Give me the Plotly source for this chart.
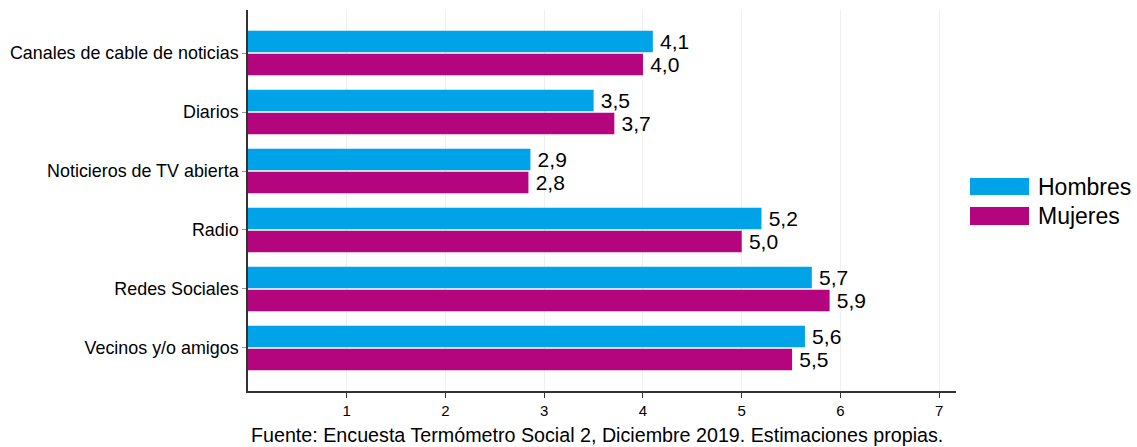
import plotly.graph_objects as go

categorias = ["Canales de cable de noticias", "Diarios", "Noticieros de TV abierta",
              "Radio", "Redes Sociales", "Vecinos y/o amigos"]
hombres = [4.10, 3.50, 2.86, 5.20, 5.71, 5.64]
mujeres = [4.00, 3.71, 2.84, 5.00, 5.89, 5.51]
series = ["Hombres", "Mujeres"]
colores = ["#00A2E8", "#B4057F"]
x_ticks = [1, 2, 3, 4, 5, 6, 7]
fuente = "Fuente: Encuesta Termómetro Social 2, Diciembre 2019. Estimaciones propias."

FONT = "Liberation Sans, Arial, sans-serif"

def fmt(v):
    return "\u2009" + f"{v:.1f}".replace(".", ",")

fig = go.Figure()
for name, vals, col in zip(series, [hombres, mujeres], colores):
    fig.add_trace(go.Bar(
        y=categorias, x=vals, name=name, orientation="h",
        marker=dict(color=col, line=dict(width=0)),
        text=[fmt(v) for v in vals], textposition="outside",
        constraintext="none",
        textfont=dict(size=21, color="black", family=FONT),
        cliponaxis=False, showlegend=False,
    ))

fig.update_layout(
    width=1137, height=447,
    margin=dict(l=248, r=181, t=10, b=56),
    barmode="group", bargap=0.22, bargroupgap=0.07,
    plot_bgcolor="white", paper_bgcolor="white",
    font=dict(family=FONT, color="black"),
)
fig.update_xaxes(
    range=[0, 7.17], tickvals=x_ticks, ticks="outside", ticklen=5, tickcolor="#333",
    showgrid=True, gridcolor="#EEF1F1", gridwidth=1,
    showline=True, linecolor="#333", linewidth=1.5,
    tickfont=dict(size=15), zeroline=False,
)
fig.update_yaxes(
    range=[5.73, -0.73], ticks="outside", ticklen=4, tickcolor="#999",
    showline=True, linecolor="#333", linewidth=1.5, showgrid=False,
    tickfont=dict(size=17.9),
)

# Custom legend
leg = [(178, 195), (207, 225)]
for (y0, y1), name, col in zip(leg, series, colores):
    fig.add_shape(type="rect", xref="paper", yref="paper",
                  x0=(970 - 248) / 708, x1=(1029 - 248) / 708,
                  y0=(391 - y1) / 381, y1=(391 - y0) / 381,
                  fillcolor=col, line=dict(width=0))
    fig.add_annotation(xref="paper", yref="paper",
                       x=(1036 - 248) / 708, y=(391 - (y0 + y1) / 2) / 381,
                       text=name, showarrow=False, xanchor="left", yanchor="middle",
                       font=dict(size=23, color="black"))

fig.add_annotation(xref="paper", yref="paper", x=(597 - 248) / 708, y=-(435 - 391) / 381,
                   text=fuente, showarrow=False, xanchor="center", yanchor="middle",
                   font=dict(size=19.7, color="black"))

fig.write_html("out.html", config={"displayModeBar": False},
               post_script="document.body.style.margin='0';")
